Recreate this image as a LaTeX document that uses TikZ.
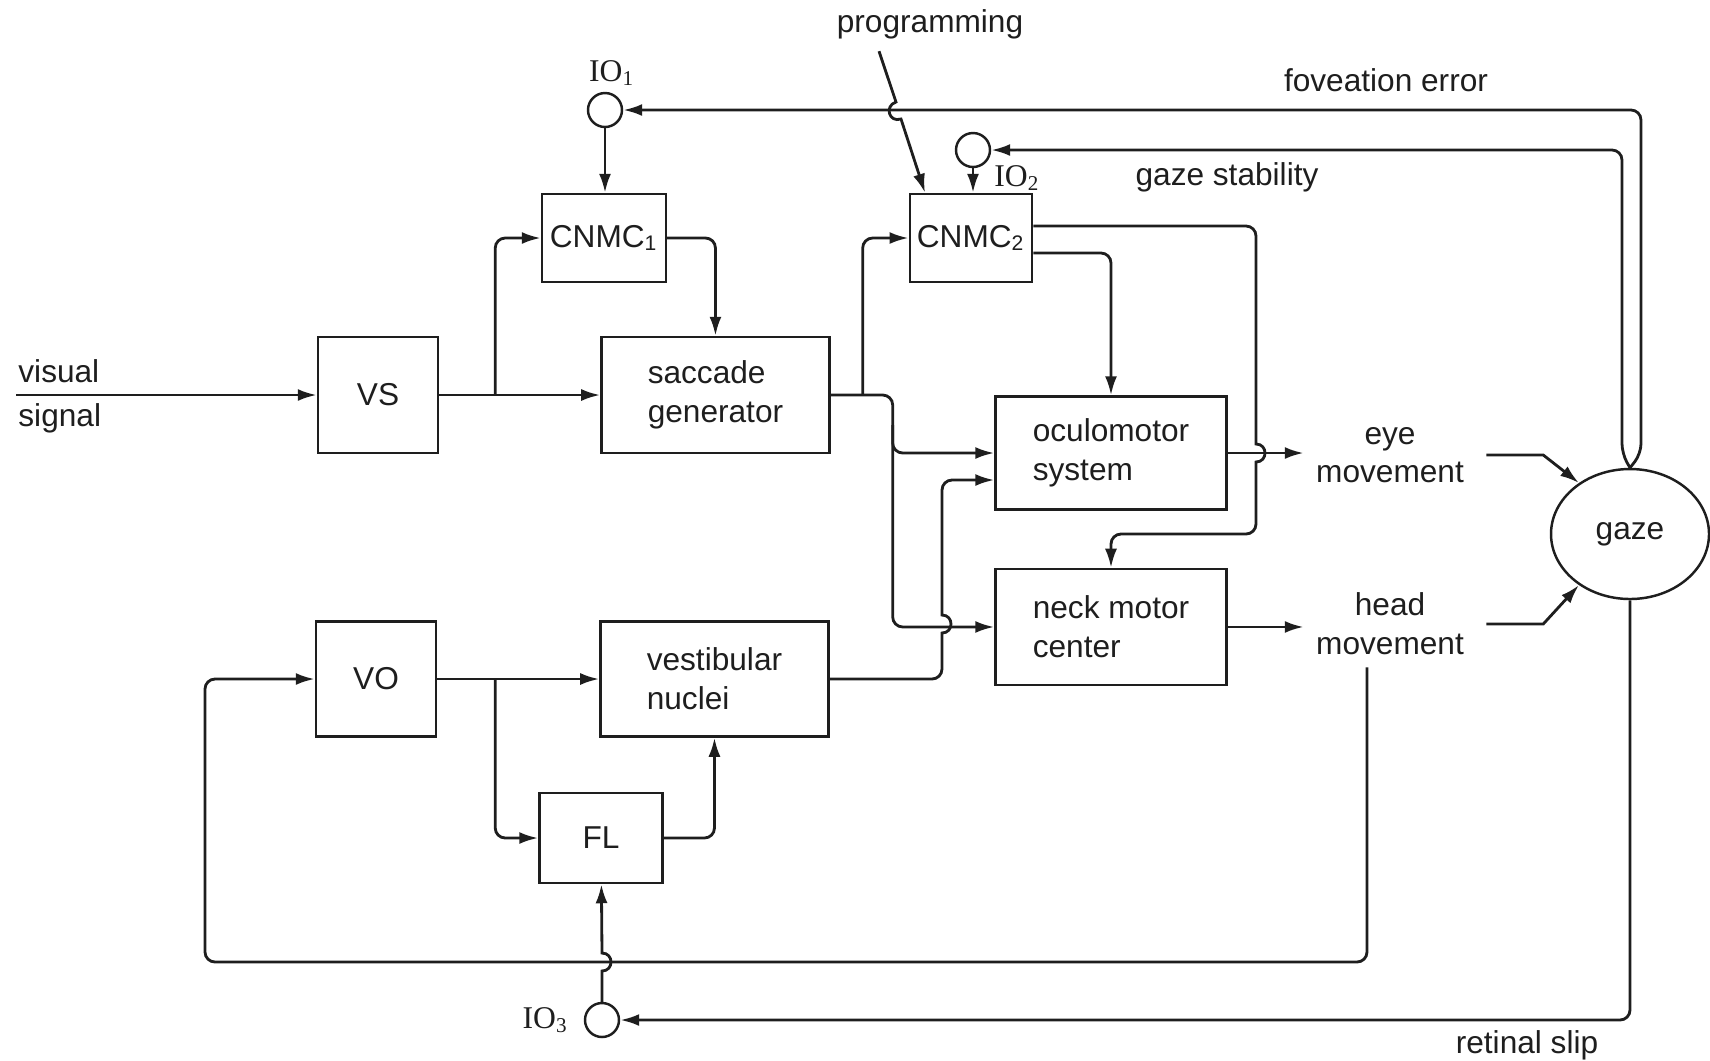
\documentclass[tikz,border=0pt]{standalone}
\usepackage{fontspec}
\setmainfont{Liberation Sans}
\newfontfamily\iofont{Liberation Serif}
\usepackage{tikz}
\usetikzlibrary{arrows.meta,positioning,shapes.geometric}
\definecolor{inkblack}{HTML}{1E1E1E}
\tikzset{
  block/.style={rectangle,draw=inkblack,line width=0.7pt,align=left,text=inkblack,font=\fontsize{9}{11}\selectfont,inner sep=2pt},
  junction/.style={circle,draw=inkblack,line width=0.7pt,minimum size=3.4mm,inner sep=0pt},
  gazenode/.style={ellipse,draw=inkblack,line width=0.7pt,minimum width=15.8mm,minimum height=13mm,inner sep=0pt,text=inkblack,font=\fontsize{9}{11}\selectfont},
  lbl/.style={align=center,text=inkblack,font=\fontsize{9}{11}\selectfont},
  iolbl/.style={text=inkblack,font=\iofont\fontsize{9}{11}\selectfont},
  edge/.style={-{Latex[length=1.9mm,width=1.2mm]},line width=0.8pt,draw=inkblack},
  routed/.style={edge,rounded corners=1mm}
}
\begin{document}
\begin{tikzpicture}[x=0.1mm,y=-0.1mm]
\useasboundingbox (0,0) rectangle (1710,1060);
\node[block,minimum width=12mm,minimum height=11.6mm] (vs) at (378,395) {VS};
\node[block,minimum width=22.8mm,minimum height=11.6mm,right=16.1mm of vs] (sacc) {saccade\\generator};
\node[block,minimum width=12.4mm,minimum height=8.8mm] (cnmc1) at (604,238) {CNMC\textsubscript{1}};
\node[block,minimum width=12.2mm,minimum height=8.8mm] (cnmc2) at (971,238) {CNMC\textsubscript{2}};
\node[block,minimum width=23.1mm,minimum height=11.3mm] (oculo) at (1111,453) {oculomotor\\system};
\node[block,minimum width=23.1mm,minimum height=11.6mm,below=5.7mm of oculo] (neck) {neck motor\\center};
\node[block,minimum width=12mm,minimum height=11.5mm] (vo) at (376,679) {VO};
\node[block,minimum width=22.8mm,minimum height=11.5mm,right=16.2mm of vo] (vest) {vestibular\\nuclei};
\node[block,minimum width=12.3mm,minimum height=9mm] (fl) at (601,838) {FL};
\node[gazenode] (gaze) at (1630,534) {gaze};
\node[junction] (io1) at (605,110) {};
\node[junction] (io2) at (973,150) {};
\node[junction] (io3) at (602,1020) {};
\node[iolbl,above=-0.6mm of io1,xshift=0.7mm] (io1lbl) {IO\textsubscript{1}};
\node[iolbl,anchor=west] (io2lbl) at (982,178) {IO\textsubscript{2}};
\node[iolbl,left=0.3mm of io3] (io3lbl) {IO\textsubscript{3}};
\node[lbl] (eye) at (1390,455) {eye\\movement};
\node[lbl] (head) at (1390,624) {head\\movement};
\node[lbl] (prog) at (930,24) {programming};
\node[lbl] (fovea) at (1386,80) {foveation error};
\node[lbl] (stab) at (1227,177) {gaze stability};
\node[lbl] (slip) at (1527,1045) {retinal slip};
\node[lbl,anchor=west] (visual) at (6,371) {visual};
\node[lbl,anchor=west] (signal) at (6,418) {signal};
\coordinate (vin) at (16,395);
\draw[edge] (vin) -- (vs);
\draw[edge] (vs) -- (sacc);
\draw[routed] ([xshift=5.6mm]vs.east) |- (cnmc1);
\draw[routed] (cnmc1) -| (sacc);
\draw[edge] (io1) -- (io1 |- cnmc1.north);
\draw[edge] (io2) -- (io2 |- cnmc2.north);
\draw[routed] (gaze.north) -- ++(11,-14) |- (io1);
\draw[routed] (gaze.north) -- ++(-8,-14) |- (io2);
\draw[edge] ([xshift=-5.1mm]prog.south) -- (896,102) .. controls (884,106) and (889,123) .. (901,119) -- ([xshift=-4.6mm]cnmc2.north);
\draw[routed] ([xshift=3.2mm]sacc.east) |- (cnmc2);
\draw[routed] (sacc.east) -- ++(62,0) |- (neck);
\draw[routed] ([xshift=6.2mm,yshift=-3mm]sacc.east) |- (oculo);
\draw[edge] (vest.east) [rounded corners=1mm] -- (942,679) [sharp corners] -- (942,633) .. controls (954,633) and (954,615) .. (942,615) [rounded corners=1mm] -- (942,480) -- ([yshift=-2.7mm]oculo.west);
\draw[edge] ([yshift=1.2mm]cnmc2.east) [rounded corners=1mm] -- (1256,226) [sharp corners] -- (1256,444) .. controls (1268,444) and (1268,462) .. (1256,462) [rounded corners=1mm] -- (1256,534) -| (neck);
\draw[routed] ([yshift=-1.5mm]cnmc2.east) -| (oculo);
\draw[edge] (oculo) -- (oculo -| eye.west);
\draw[edge] (neck) -- (neck -| head.west);
\draw[edge] ([xshift=1mm]eye.east) -- ++(57,0) -- (gaze.135);
\draw[edge] ([xshift=1mm]head.east) -- ++(57,0) -- (gaze.225);
\draw[routed] (gaze.south) |- (io3);
\draw[routed] ([xshift=-2.3mm]head.south) |- (205,962) |- (vo);
\draw[edge] (io3) -- (602,971) .. controls (614,971) and (614,953) .. (602,953) -- (fl);
\draw[edge] (vo) -- (vest);
\draw[routed] ([xshift=5.8mm]vo.east) |- (fl);
\draw[routed] (fl) -| (vest);
\end{tikzpicture}
\end{document}
